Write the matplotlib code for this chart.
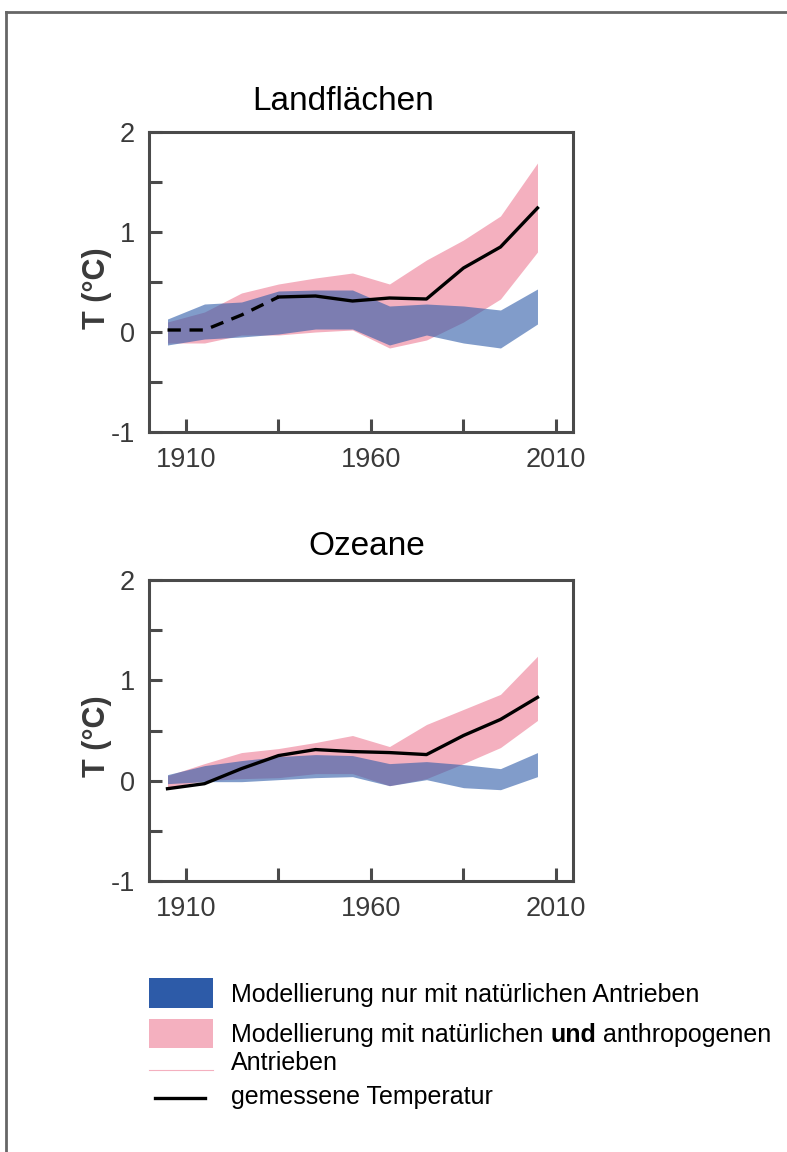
import matplotlib
matplotlib.use("Agg")
import matplotlib.pyplot as plt
from matplotlib.lines import Line2D
from matplotlib.patches import Rectangle

plt.rcParams['font.family'] = ['Liberation Sans', 'DejaVu Sans']

# decade centres
years = [1905, 1915, 1925, 1935, 1945, 1955, 1965, 1975, 1985, 1995, 2005]

# Landflächen
land_obs = [0.02, 0.02, 0.17, 0.35, 0.36, 0.31, 0.34, 0.33, 0.64, 0.85, 1.24]
land_nat_lo = [-0.13, -0.07, -0.05, -0.02, 0.03, 0.03, -0.13, -0.03, -0.11, -0.16, 0.08]
land_nat_hi = [0.13, 0.28, 0.30, 0.41, 0.42, 0.42, 0.26, 0.28, 0.26, 0.22, 0.43]
land_all_lo = [-0.11, -0.11, -0.03, -0.03, 0.00, 0.02, -0.16, -0.08, 0.10, 0.33, 0.80]
land_all_hi = [0.10, 0.20, 0.39, 0.48, 0.54, 0.59, 0.48, 0.72, 0.92, 1.16, 1.69]

# Ozeane
ocean_obs = [-0.08, -0.03, 0.12, 0.25, 0.31, 0.29, 0.28, 0.26, 0.45, 0.61, 0.83]
ocean_nat_lo = [-0.03, -0.01, -0.01, 0.01, 0.03, 0.04, -0.05, 0.01, -0.07, -0.09, 0.04]
ocean_nat_hi = [0.06, 0.15, 0.20, 0.24, 0.26, 0.25, 0.17, 0.19, 0.16, 0.12, 0.28]
ocean_all_lo = [-0.07, 0.00, 0.02, 0.03, 0.07, 0.07, -0.05, 0.02, 0.17, 0.33, 0.60]
ocean_all_hi = [0.05, 0.17, 0.28, 0.32, 0.38, 0.45, 0.34, 0.56, 0.71, 0.86, 1.24]

xticks = [1910, 1935, 1960, 1985, 2010]
xlabels = ['1910', '', '1960', '', '2010']
yticks = [-1, -0.5, 0, 0.5, 1, 1.5, 2]
ylabels = ['-1', '', '0', '', '1', '', '2']

blue = '#2d5ba8'
pink = '#f4b0bf'
spine = '#4a4a4a'
txt = '#3a3a3a'

fig = plt.figure(figsize=(7.87, 11.52), dpi=100)

# frame lines at top and left of the page
fig.add_artist(Line2D([6 / 787, 1], [1 - 12 / 1152] * 2, color='#666666', lw=2))
fig.add_artist(Line2D([6 / 787] * 2, [0, 1 - 12 / 1152], color='#666666', lw=2))


def panel(rect, title, tx, ty, obs, nat_lo, nat_hi, all_lo, all_hi, dashed_until=None):
    ax = fig.add_axes(rect)
    ax.fill_between(years, all_lo, all_hi, color=pink, lw=0)
    ax.fill_between(years, nat_lo, nat_hi, color=blue, alpha=0.6, lw=0)
    if dashed_until is None:
        ax.plot(years, obs, color='black', lw=2.4)
    else:
        k = years.index(dashed_until)
        ax.plot(years[:k + 1], obs[:k + 1], color='black', lw=2.4, ls=(0, (4, 2.6)))
        ax.plot(years[k:], obs[k:], color='black', lw=2.4)
    ax.set_xlim(1900, 2014.6)
    ax.set_ylim(-1, 2)
    ax.set_xticks(xticks)
    ax.set_xticklabels(xlabels)
    ax.set_yticks(yticks)
    ax.set_yticklabels(ylabels)
    ax.tick_params(direction='in', length=9.5, width=2.2, color=spine,
                   labelsize=19.5, labelcolor=txt)
    ax.tick_params(axis='y', pad=10)
    ax.tick_params(axis='x', pad=11)
    for s in ax.spines.values():
        s.set_color(spine)
        s.set_linewidth(2.2)
    ax.set_ylabel('T (°C)', fontsize=22, fontweight='bold', color=txt)
    ax.yaxis.set_label_coords(-0.088, 0.48)
    ax.text(tx, ty, title, transform=ax.transAxes, ha='center', va='baseline',
            fontsize=24, color='black')
    return ax


panel([149 / 787, 1 - 432 / 1152, 424 / 787, 300 / 1152], 'Landflächen', 0.457, 1.073,
      land_obs, land_nat_lo, land_nat_hi, land_all_lo, land_all_hi, dashed_until=1935)
panel([149 / 787, 1 - 881 / 1152, 424 / 787, 301 / 1152], 'Ozeane', 0.514, 1.083,
      ocean_obs, ocean_nat_lo, ocean_nat_hi, ocean_all_lo, ocean_all_hi)


# legend
def fy(py):
    return 1 - py / 1152


fig.add_artist(Rectangle((149 / 787, fy(1008)), 64 / 787, 30 / 1152, color=blue, lw=0))
fig.add_artist(Rectangle((149 / 787, fy(1048)), 64 / 787, 29 / 1152, color=pink, lw=0))
fig.add_artist(Line2D([149 / 787, 213 / 787], [fy(1070)] * 2, color=pink, lw=0.8))
fig.add_artist(Line2D([155 / 787, 205 / 787], [fy(1098)] * 2, color='black', lw=2.4))

lx = 231 / 787
fs = 18
fig.text(lx, fy(1002), 'Modellierung nur mit natürlichen Antrieben', fontsize=fs,
         va='baseline', color='black')
t1 = fig.text(lx, fy(1042), 'Modellierung mit natürlichen ', fontsize=fs,
              va='baseline', color='black')
fig.canvas.draw()
r = fig.canvas.get_renderer()
bb = t1.get_window_extent(r)
t2 = fig.text(bb.x1 / fig.bbox.width, fy(1042), 'und', fontsize=fs, va='baseline',
              fontweight='bold', color='black')
bb2 = t2.get_window_extent(r)
fig.text(bb2.x1 / fig.bbox.width, fy(1042), ' anthropogenen', fontsize=fs,
         va='baseline', color='black')
fig.text(lx, fy(1070), 'Antrieben', fontsize=fs, va='baseline', color='black')
fig.text(lx, fy(1104), 'gemessene Temperatur', fontsize=fs, va='baseline', color='black')

fig.savefig('out.png', dpi=100)
